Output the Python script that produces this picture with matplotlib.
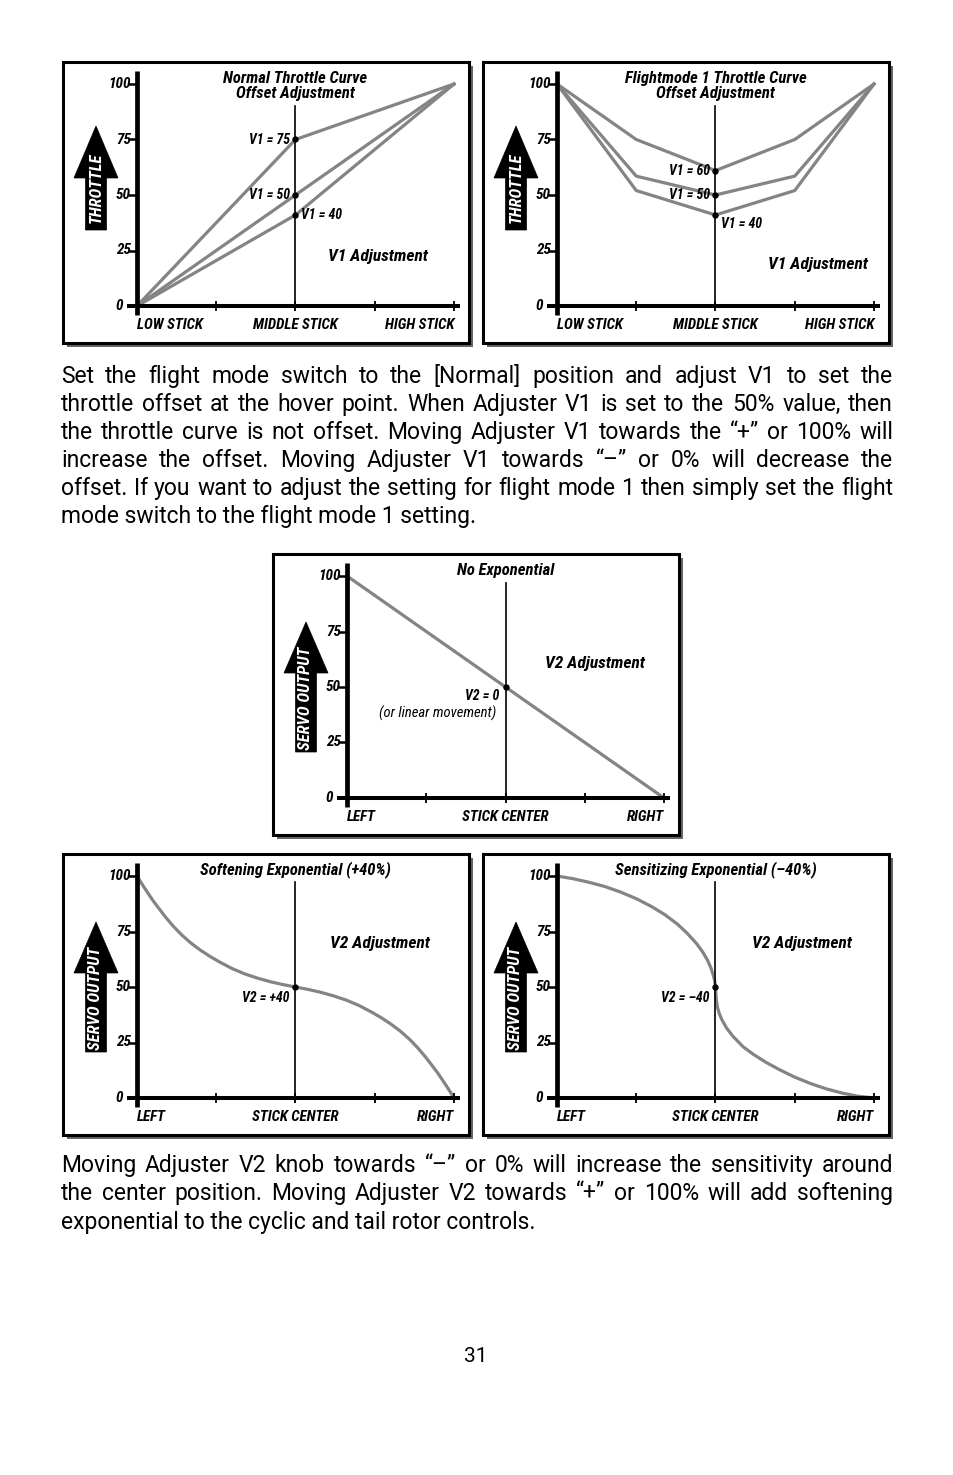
#!/usr/bin/env python3
# -*- coding: UTF-8 -*-

import matplotlib
matplotlib.use('Agg')
from matplotlib import pyplot as plt
from matplotlib import font_manager as fm
from matplotlib.patches import Rectangle, Polygon

W, H = 954, 1475
XPX = 317.0   # pixels per unit of stick travel
YPX = 2.22    # pixels per percent of output

# ---- data ---------------------------------------------------------------
stick_ticks = [0.25, 0.5, 0.75, 1.0]
value_ticks = [0, 25, 50, 75, 100]
throttle_labels = ['LOW STICK', 'MIDDLE STICK', 'HIGH STICK']
servo_labels = ['LEFT', 'STICK CENTER', 'RIGHT']

normal_x = [0, 0.5, 1]
normal_v75 = [0, 75, 100]
normal_v50 = [0, 50, 100]
normal_v40 = [0, 41, 100]

fm1_x = [0, 0.25, 0.5, 0.75, 1]
fm1_v60 = [100, 75, 61, 75, 100]
fm1_v50 = [100, 58.5, 50, 58.5, 100]
fm1_v40 = [100, 52, 41, 52, 100]

linear_x = [0, 0.5, 1]
linear_y = [100, 50, 0]

soft_x = [0, 0.01, 0.02, 0.035, 0.05, 0.07, 0.09, 0.115, 0.14, 0.17, 0.2,
          0.23, 0.26, 0.3, 0.34, 0.38, 0.42, 0.46, 0.5, 0.54, 0.58, 0.62,
          0.66, 0.7, 0.74, 0.77, 0.8, 0.83, 0.86, 0.885, 0.91, 0.93, 0.95,
          0.965, 0.98, 0.99, 1.0]
soft_y = [100, 97.7, 95.4, 92.2, 89.0, 85.2, 81.5, 77.3, 73.6, 69.8, 66.6,
          63.8, 61.3, 58.3, 55.9, 54.0, 52.4, 51.1, 50, 48.9, 47.6, 46.0,
          44.1, 41.7, 38.7, 36.2, 33.4, 30.2, 26.4, 22.7, 18.5, 14.8, 11.0,
          7.8, 4.6, 2.3, 0]

sens_x = [0, 0.05, 0.1, 0.15, 0.2, 0.25, 0.3, 0.34, 0.38, 0.41, 0.44, 0.46,
          0.475, 0.485, 0.492, 0.497, 0.5, 0.502, 0.506, 0.512, 0.52, 0.535,
          0.555, 0.587, 0.62, 0.66, 0.7, 0.75, 0.8, 0.85, 0.9, 0.95, 1.0]
sens_y = [100, 98.8, 97.2, 95.3, 92.8, 89.8, 86.1, 82.6, 78.3, 74.3, 69.6, 65.7,
          62.0, 58.8, 55.8, 53.2, 50, 45, 41, 38, 35.3, 31.5,
          27.8, 23.1, 19.6, 16.0, 12.9, 9.4, 6.5, 4.1, 2.2, 0.8, 0]

para1 = [
    'Set the flight mode switch to the [Normal] position and adjust V1 to set the',
    'throttle offset at the hover point. When Adjuster V1 is set to the 50% value, then',
    'the throttle curve is not offset. Moving Adjuster V1 towards the \u201c+\u201d or 100% will',
    'increase the offset. Moving Adjuster V1 towards \u201c\u2013\u201d or 0% will decrease the',
    'offset. If you want to adjust the setting for flight mode 1 then simply set the flight',
    'mode switch to the flight mode 1 setting.',
]
para2 = [
    'Moving Adjuster V2 knob towards \u201c\u2013\u201d or 0% will increase the sensitivity around',
    'the center position. Moving Adjuster V2 towards \u201c+\u201d or 100% will add softening',
    'exponential to the cyclic and tail rotor controls.',
]

# ---- fonts --------------------------------------------------------------
names = {f.name for f in fm.fontManager.ttflist}


def pick(cands):
    for c in cands:
        if c in names:
            return c
    return 'DejaVu Sans'


NARROW = pick(['Liberation Sans Narrow', 'Roboto Condensed', 'Open Sans Condensed', 'DejaVu Sans'])
LAB = dict(family=NARROW, weight='bold', style='italic', stretch='condensed')

CURVE = '#848484'

fig = plt.figure(figsize=(W / 100, H / 100), dpi=100)


def panel(x0, y0, xlabels, arrow_text, arrow_geom, center_top):
    ax = fig.add_axes([(x0 - 74) / W, 1 - (y0 + 37) / H, 406 / W, 281 / H])
    ax.set_xlim(-74 / XPX, 332 / XPX)
    ax.set_ylim(-37 / YPX, 100 + 22 / YPX)
    ax.axis('off')

    # frame with a drop shadow
    ax.add_patch(Rectangle((4 / 406, -4 / 281), 1, 1, transform=ax.transAxes,
                           fc='#666666', ec='none', clip_on=False, zorder=0))
    ax.add_patch(Rectangle((0, 0), 1, 1, transform=ax.transAxes, fc='white',
                           ec='black', lw=2.2, clip_on=False, zorder=0.5))

    # axes lines and ticks
    ax.plot([0, 0], [-9 / YPX, 100 + 13 / YPX], color='k', lw=3.4,
            solid_capstyle='butt', zorder=5)
    ax.plot([-10 / XPX, 323 / XPX], [0, 0], color='k', lw=2.9,
            solid_capstyle='butt', zorder=5)
    for v in value_ticks[1:]:
        ax.plot([-9 / XPX, 0], [v, v], color='k', lw=1.8, solid_capstyle='butt')
    for v in stick_ticks:
        ax.plot([v, v], [-5 / YPX, 5 / YPX], color='k', lw=1.3, solid_capstyle='butt')
    ax.plot([0.5, 0.5], [0, center_top], color='k', lw=1.2, zorder=2)

    for v in value_ticks:
        off = -14 if v == 0 else -6
        ax.annotate(str(v), (0, v), xytext=(off, 0), textcoords='offset pixels',
                    ha='right', va='center', fontsize=11, **LAB)

    for x, lbl, ha in zip([0, 0.5, 1], xlabels, ['left', 'center', 'right']):
        ax.annotate(lbl, (x, 0), xytext=(0, -19), textcoords='offset pixels',
                    ha=ha, va='center', fontsize=10.8, **LAB)

    # arrow with the axis name
    tip, base, bottom, txt_c = arrow_geom
    cx = -41 / XPX
    hw, sw = 22 / XPX, 10.5 / XPX

    def ty(d):
        return 100 - d / YPX

    pts = [(cx, ty(tip)), (cx + hw, ty(base)), (cx + sw, ty(base)),
           (cx + sw, ty(bottom)), (cx - sw, ty(bottom)), (cx - sw, ty(base)),
           (cx - hw, ty(base))]
    ax.add_patch(Polygon(pts, closed=True, fc='black', ec='black', lw=0.5, zorder=3))
    ax.text(cx, ty(txt_c), arrow_text, rotation=90, color='white', ha='center',
            va='center', fontsize=12, zorder=4, **LAB)
    return ax


def dot(ax, x, y):
    ax.plot([x], [y], 'o', color='k', ms=3.6, zorder=6)


def vlabel(ax, text, xy, off, ha):
    ax.annotate(text, xy, xytext=off, textcoords='offset pixels', ha=ha,
                va='center', fontsize=10, zorder=7, **LAB)


def title(ax, text, y):
    ax.text(0.5, y, text, ha='center', va='center', fontsize=12, **LAB)


def adjust(ax, text, x, y):
    ax.text(x, y, text, ha='center', va='center', fontsize=12.5, **LAB)


thr_arrow = (42, 94, 146, 104)
servo_arrow = (46, 97, 176, 122)

# ---- normal throttle curve ---------------------------------------------
ax = panel(137, 306, throttle_labels, 'THROTTLE', thr_arrow, 90)
for ys in (normal_v75, normal_v50, normal_v40):
    ax.plot(normal_x, ys, color=CURVE, lw=2.3, zorder=1)
for ys in (normal_v75, normal_v50, normal_v40):
    dot(ax, normal_x[1], ys[1])
title(ax, 'Normal Throttle Curve', 102.7)
title(ax, 'Offset Adjustment', 95.9)
vlabel(ax, 'V1 = 75', (0.5, normal_v75[1]), (-5, 0), 'right')
vlabel(ax, 'V1 = 50', (0.5, normal_v50[1]), (-5, 0), 'right')
vlabel(ax, 'V1 = 40', (0.5, normal_v40[1]), (6, 0), 'left')
adjust(ax, 'V1 Adjustment', 0.76, 22.5)

# ---- flightmode 1 throttle curve ---------------------------------------
ax = panel(557, 306, throttle_labels, 'THROTTLE', thr_arrow, 90)
for ys in (fm1_v60, fm1_v50, fm1_v40):
    ax.plot(fm1_x, ys, color=CURVE, lw=2.3, zorder=1)
for ys in (fm1_v60, fm1_v50, fm1_v40):
    dot(ax, fm1_x[2], ys[2])
title(ax, 'Flightmode 1 Throttle Curve', 102.7)
title(ax, 'Offset Adjustment', 95.9)
vlabel(ax, 'V1 = 60', (0.5, fm1_v60[2]), (-5, 0), 'right')
vlabel(ax, 'V1 = 50', (0.5, fm1_v50[2]), (-5, 0), 'right')
vlabel(ax, 'V1 = 40', (0.5, fm1_v40[2]), (6, -9), 'left')
adjust(ax, 'V1 Adjustment', 0.823, 18.5)

# ---- no exponential ----------------------------------------------------
ax = panel(347, 798, servo_labels, 'SERVO OUTPUT', servo_arrow, 96.8)
ax.plot(linear_x, linear_y, color=CURVE, lw=2.3, zorder=1)
dot(ax, linear_x[1], linear_y[1])
title(ax, 'No Exponential', 102.3)
adjust(ax, 'V2 Adjustment', 0.782, 60.4)
vlabel(ax, 'V2 = 0', (0.5, 50), (-6, -9), 'right')
ax.text(0.287, 38.3, '(or linear movement)', ha='center', va='center', fontsize=10.5,
        family=NARROW, style='italic', stretch='condensed')

# ---- softening exponential ---------------------------------------------
ax = panel(137, 1098, servo_labels, 'SERVO OUTPUT', servo_arrow, 97.4)
ax.plot(soft_x, soft_y, color=CURVE, lw=2.3, zorder=1)
dot(ax, 0.5, 50)
title(ax, 'Softening Exponential (+40%)', 102.7)
adjust(ax, 'V2 Adjustment', 0.766, 69.8)
vlabel(ax, 'V2 = +40', (0.5, 50), (-6, -11), 'right')

# ---- sensitizing exponential -------------------------------------------
ax = panel(557, 1098, servo_labels, 'SERVO OUTPUT', servo_arrow, 97.4)
ax.plot(sens_x, sens_y, color=CURVE, lw=2.3, zorder=1)
dot(ax, 0.5, 50)
title(ax, 'Sensitizing Exponential (\u201340%)', 102.7)
adjust(ax, 'V2 Adjustment', 0.773, 69.8)
vlabel(ax, 'V2 = \u201340', (0.5, 50), (-6, -11), 'right')

# ---- justified body text -----------------------------------------------
renderer = fig.canvas.get_renderer()
LEFT, RIGHT = 61, 893


def width(s, size, family):
    t = fig.text(0, 0, s, fontsize=size, family=family)
    w = t.get_window_extent(renderer).width
    t.remove()
    return w


def fitted(family, size=16.5):
    # allow the tightest line to run with somewhat narrower word spaces
    space = width('a a', size, family) - width('aa', size, family)
    need = 0
    for l in para1[:-1] + para2[:-1]:
        words = l.split(' ')
        need = max(need, sum(width(w, size, family) for w in words)
                   + 0.6 * space * (len(words) - 1))
    if need > RIGHT - LEFT:
        size = size * (RIGHT - LEFT) / need
    return size


cands = [f for f in ['Roboto', 'Liberation Sans', 'Arimo'] if f in names] or ['DejaVu Sans']
BODY, size = max(((f, fitted(f)) for f in cands), key=lambda p: p[1])


def paragraph(lines, base0, step):
    for i, line in enumerate(lines):
        y = round(base0 + i * step)
        words = line.split(' ')
        if i == len(lines) - 1:
            fig.text(LEFT / W, 1 - y / H, line, fontsize=size, family=BODY, va='baseline')
            continue
        ws = [width(w, size, BODY) for w in words]
        gap = (RIGHT - LEFT - sum(ws)) / (len(words) - 1)
        x = LEFT
        for w, wd in zip(words, ws):
            fig.text(x / W, 1 - y / H, w, fontsize=size, family=BODY, va='baseline')
            x += wd + gap


paragraph(para1, 383, 28)
paragraph(para2, 1172, 28.5)
fig.text(476 / W, 1 - 1362 / H, '31', fontsize=min(size, 15), family=BODY, ha='center', va='baseline')

fig.savefig('out.png', dpi=100)
